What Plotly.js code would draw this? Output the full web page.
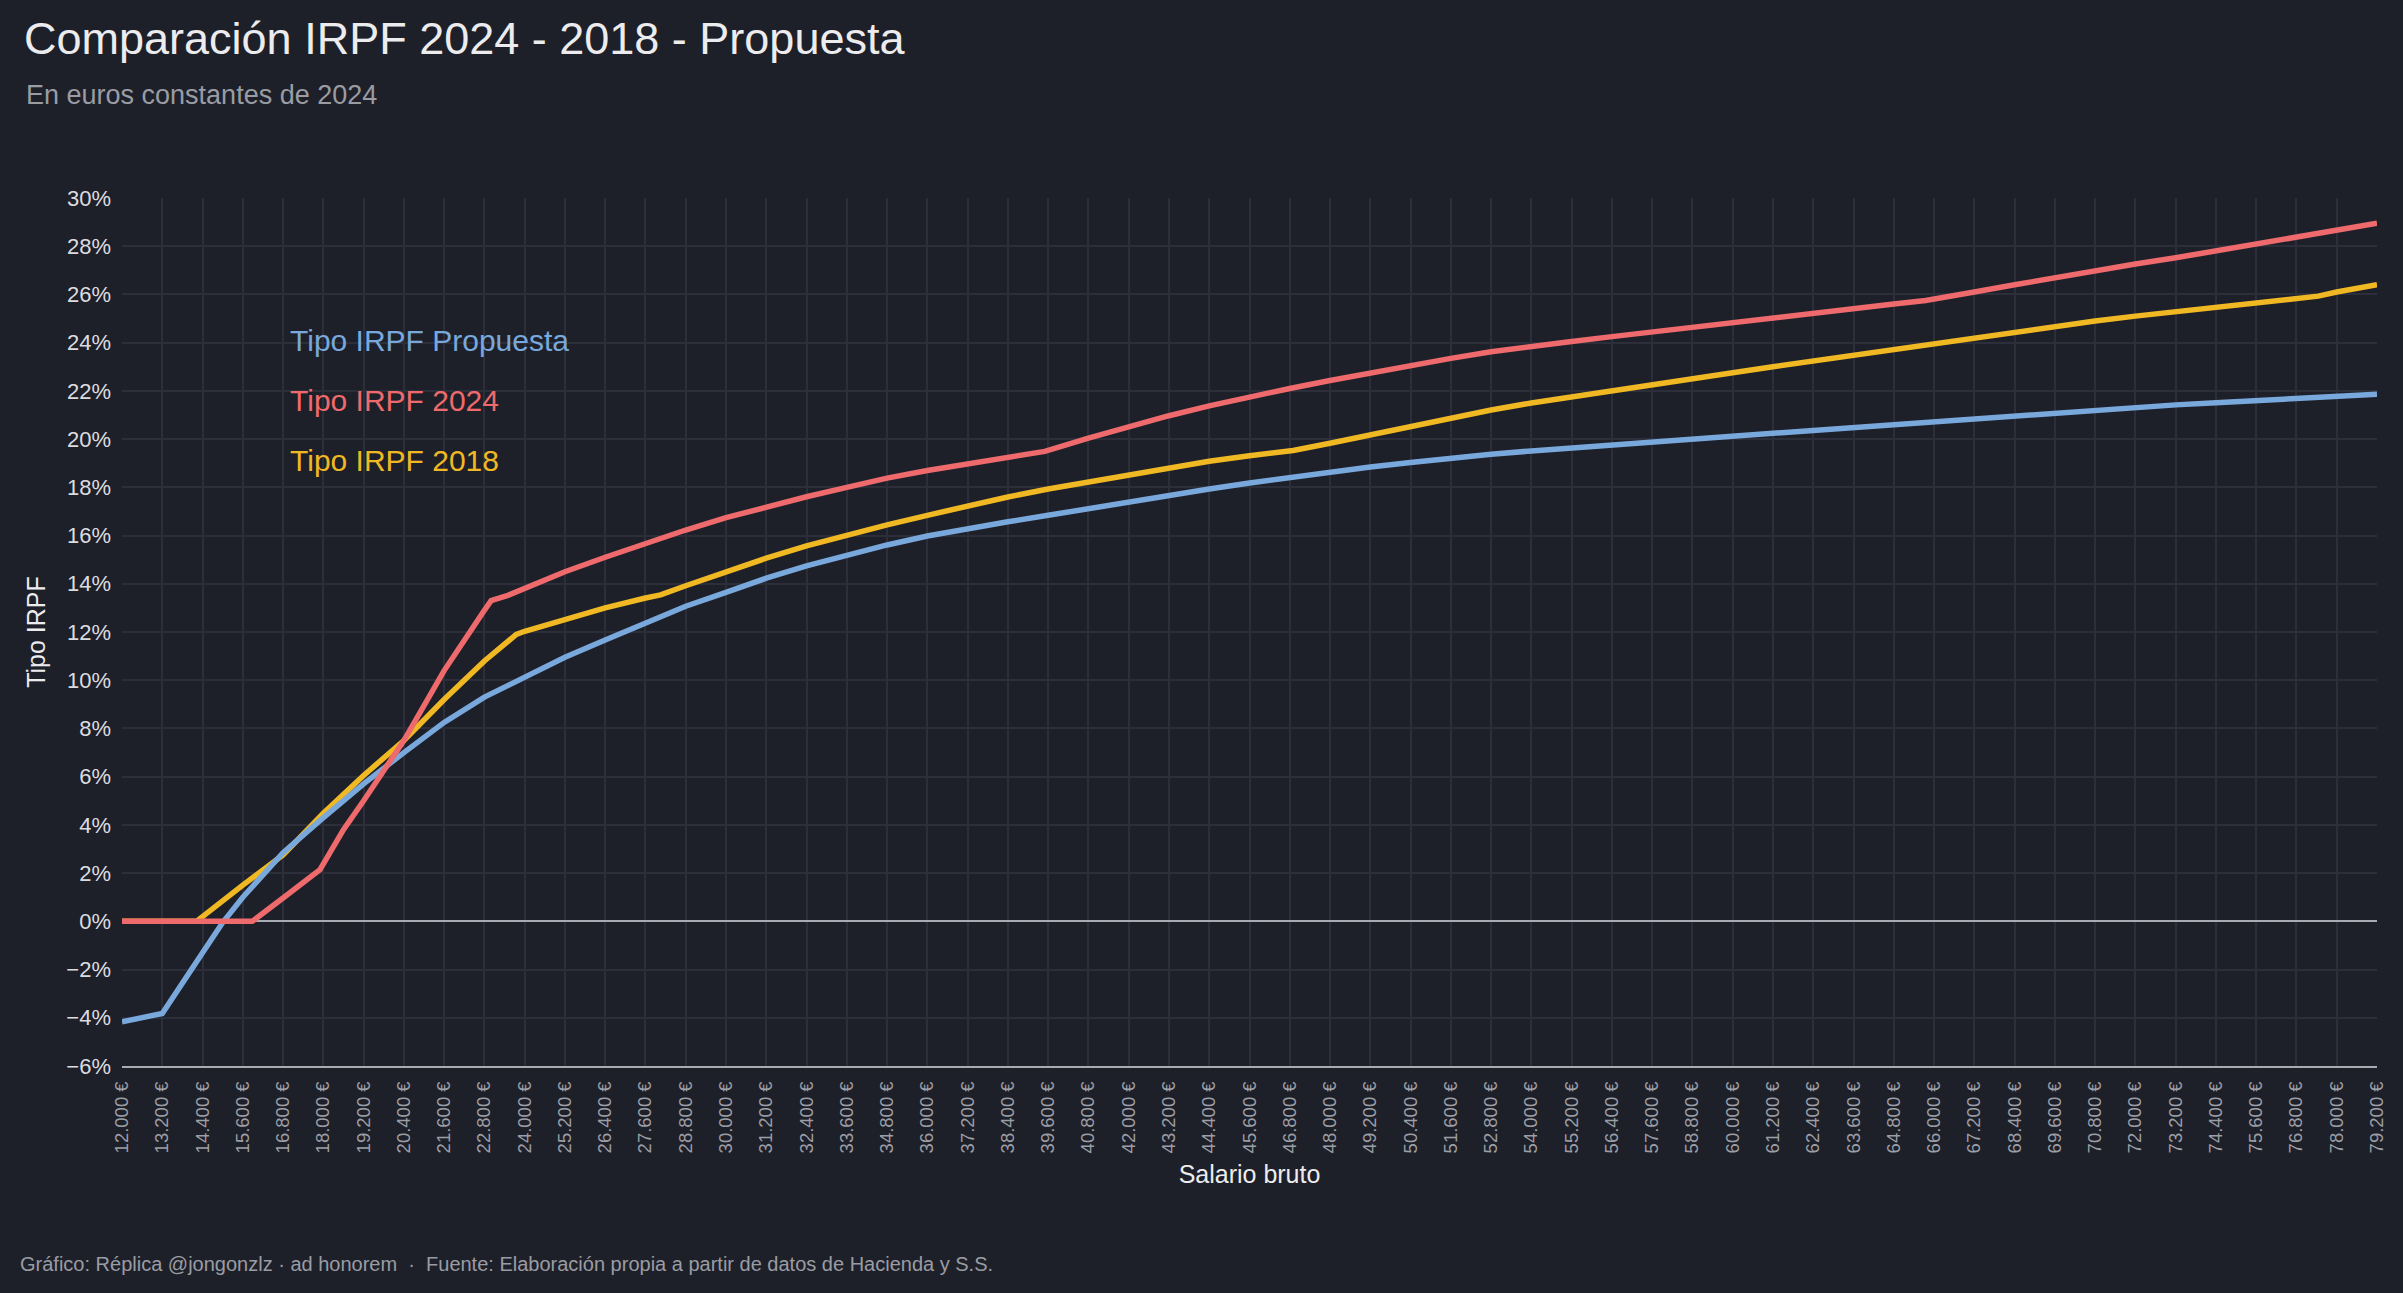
<!DOCTYPE html>
<html>
<head>
<meta charset="utf-8">
<script src="https://cdn.plot.ly/plotly-3.0.1.min.js"></script>
<style>
  html, body { margin: 0; padding: 0; background: #1e2029; }
  #chart { width: 2403px; height: 1293px; }
</style>
</head>
<body>
<div id="chart"></div>
<script>
// ---- Data (salario bruto in €, tipo IRPF in %) ----
const salarioPropuesta = [12000,13200,14400,15000,15600,16800,18000,19200,20400,21600,22800,24000,25200,26400,27600,28800,30000,31200,32400,33600,34800,36000,37200,38400,39600,40800,42000,43200,44400,45600,46800,48000,49200,50400,51600,52800,54000,55200,56400,57600,58800,60000,61200,62400,63600,64800,66000,67200,68400,69600,70800,72000,73200,74400,75600,76800,78000,79200];
const tipoPropuesta = [-4.17,-3.82,-1.3,-0.05,1.0,2.85,4.3,5.7,7.0,8.25,9.3,10.12,10.95,11.67,12.4,13.07,13.64,14.23,14.74,15.2,15.61,15.98,16.3,16.57,16.84,17.12,17.4,17.67,17.93,18.18,18.41,18.62,18.84,19.03,19.21,19.37,19.51,19.64,19.76,19.88,20.0,20.12,20.24,20.36,20.48,20.6,20.73,20.86,20.98,21.1,21.21,21.32,21.42,21.51,21.6,21.69,21.78,21.86];

const salario2024 = [12000,13200,14400,15600,15880,16800,17900,18600,19200,20400,21600,22800,23000,23500,24000,25200,26400,27600,28800,30000,31200,32400,33600,34800,36000,37200,38400,39500,40800,42000,43200,44400,45600,46800,48000,49200,50400,51600,52800,54000,55200,56400,57600,58800,60000,61200,62400,63600,64800,65750,66000,67200,68400,69600,70800,72000,73200,74400,75600,76800,78000,79200];
const tipo2024 = [0,0,0,0,0,0.97,2.14,3.8,5.0,7.5,10.4,12.9,13.3,13.52,13.8,14.5,15.1,15.68,16.23,16.74,17.2,17.61,18.0,18.38,18.7,18.98,19.22,19.49,20.04,20.52,20.97,21.38,21.75,22.1,22.43,22.75,23.06,23.35,23.62,23.85,24.05,24.25,24.45,24.65,24.85,25.05,25.24,25.42,25.6,25.75,25.82,26.1,26.4,26.7,26.98,27.26,27.52,27.8,28.07,28.35,28.63,28.95];

const salario2018 = [12000,13200,14220,15600,16800,18000,19200,20400,21600,22800,23750,24000,25200,26400,27600,28050,28800,30000,31200,32400,33600,34800,36000,37200,38400,39600,40800,42000,43200,44400,45600,46900,48000,49200,50400,51600,52800,54000,55200,56400,57600,58800,60000,61200,62400,63600,64800,66000,67200,68400,69600,70800,72000,73200,74400,75600,76800,77450,78000,79200];
const tipo2018 = [0,0,0,1.5,2.75,4.48,6.05,7.5,9.2,10.8,11.9,12.03,12.51,13.0,13.41,13.54,13.92,14.51,15.06,15.57,16.03,16.44,16.84,17.24,17.6,17.93,18.22,18.52,18.8,19.08,19.31,19.53,19.83,20.18,20.52,20.87,21.21,21.5,21.74,22.0,22.25,22.5,22.75,23.0,23.24,23.48,23.72,23.96,24.22,24.45,24.68,24.9,25.1,25.28,25.47,25.66,25.83,25.93,26.1,26.4];

const seriesNames = ["Tipo IRPF Propuesta", "Tipo IRPF 2024", "Tipo IRPF 2018"];
const titleText = "Comparación IRPF 2024 - 2018 - Propuesta";
const subtitleText = "En euros constantes de 2024";
const footerText = "Gráfico: Réplica @jongonzlz · ad honorem  ·  Fuente: Elaboración propia a partir de datos de Hacienda y S.S.";
const xTitle = "Salario bruto";
const yTitle = "Tipo IRPF";

// ---- Styles ----
const C_BLUE = "#79a8dc", C_RED = "#ee6a6c", C_YELLOW = "#f0b823";
const FONT = "Liberation Sans, Arial, Helvetica, sans-serif";
const LW = 5.5;

const traces = [
  { x: salario2018, y: tipo2018, name: seriesNames[2], mode: "lines",
    line: { color: C_YELLOW, width: LW } },
  { x: salarioPropuesta, y: tipoPropuesta, name: seriesNames[0], mode: "lines",
    line: { color: C_BLUE, width: LW } },
  { x: salario2024, y: tipo2024, name: seriesNames[1], mode: "lines",
    line: { color: C_RED, width: LW } }
];

const layout = {
  width: 2403, height: 1293,
  paper_bgcolor: "#1e2029", plot_bgcolor: "#1e2029",
  font: { family: FONT, color: "#e6e6ea" },
  separators: ",.",
  showlegend: false,
  margin: { l: 122, r: 26, t: 198, b: 227, pad: 0 },
  title: {
    text: titleText,
    font: { family: FONT, size: 45, color: "#ececef" },
    xref: "container", yref: "container",
    x: 24 / 2403, xanchor: "left",
    y: 1 - 38 / 1293, yanchor: "middle"
  },
  xaxis: {
    range: [12000, 79200],
    tickmode: "linear", tick0: 12000, dtick: 1200,
    tickformat: ",d", ticksuffix: " €",
    tickangle: -90,
    tickfont: { family: FONT, size: 18.5, color: "#9c9ea6" },
    ticklabelstandoff: 6,
    showgrid: true, gridcolor: "#2c2e3a", gridwidth: 1.5,
    zeroline: false,
    showline: true, linecolor: "#a9abb3", linewidth: 2,
    ticks: "",
    title: { text: xTitle, font: { family: FONT, size: 25, color: "#ececef" }, standoff: 13 },
    automargin: false
  },
  yaxis: {
    range: [-6, 30],
    tickmode: "linear", tick0: -6, dtick: 2,
    ticksuffix: "%",
    tickfont: { family: FONT, size: 22, color: "#dcdce0" },
    ticklabelstandoff: 10,
    showgrid: true, gridcolor: "#2c2e3a", gridwidth: 1.5,
    zeroline: true, zerolinecolor: "#a9abb3", zerolinewidth: 2,
    showline: false,
    ticks: "",
    title: { text: yTitle, font: { family: FONT, size: 25, color: "#ececef" }, standoff: 13 },
    automargin: false
  },
  annotations: [
    { text: subtitleText, xref: "paper", yref: "paper",
      x: (24 - 122) / 2255, y: (1066 - 95) / 868, xanchor: "left", yanchor: "middle",
      showarrow: false, font: { family: FONT, size: 27, color: "#9a9ca4" } },
    { text: seriesNames[0], xref: "paper", yref: "paper",
      x: (288 - 122) / 2255, y: (1066 - 340) / 868, xanchor: "left", yanchor: "middle",
      showarrow: false, font: { family: FONT, size: 30, color: C_BLUE } },
    { text: seriesNames[1], xref: "paper", yref: "paper",
      x: (288 - 122) / 2255, y: (1066 - 400) / 868, xanchor: "left", yanchor: "middle",
      showarrow: false, font: { family: FONT, size: 30, color: C_RED } },
    { text: seriesNames[2], xref: "paper", yref: "paper",
      x: (288 - 122) / 2255, y: (1066 - 460) / 868, xanchor: "left", yanchor: "middle",
      showarrow: false, font: { family: FONT, size: 30, color: C_YELLOW } },
    { text: footerText, xref: "paper", yref: "paper",
      x: (18 - 122) / 2255, y: (1066 - 1264) / 868, xanchor: "left", yanchor: "middle",
      showarrow: false, font: { family: FONT, size: 20, color: "#9a9ca4" } }
  ]
};

Plotly.newPlot("chart", traces, layout, { displayModeBar: false, responsive: false });
</script>
</body>
</html>
